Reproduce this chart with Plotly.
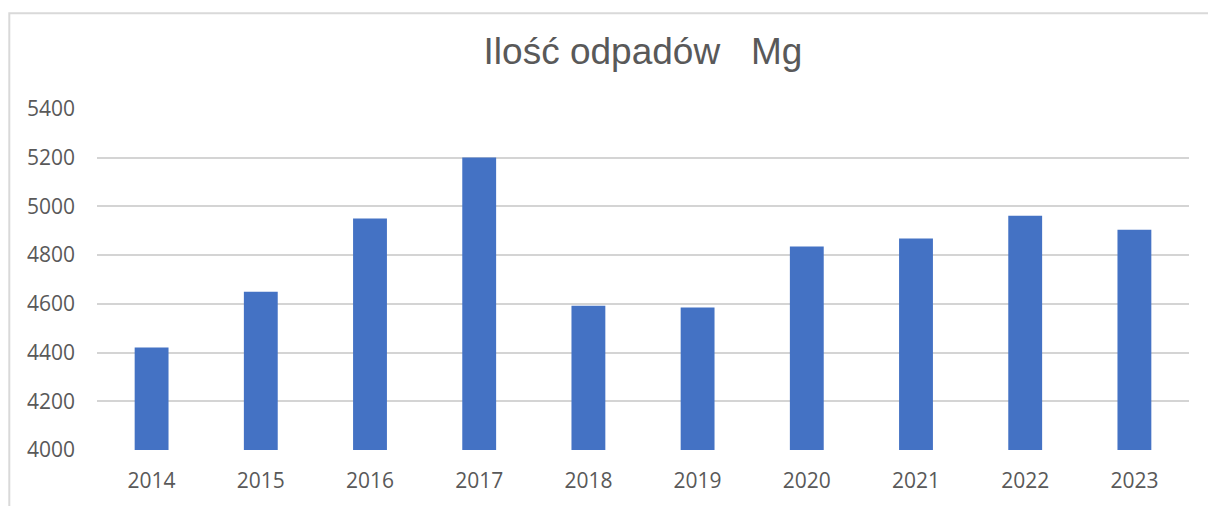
import plotly.graph_objects as go

# Annual amount of waste (Mg)
years = ["2014", "2015", "2016", "2017", "2018", "2019", "2020", "2021", "2022", "2023"]
waste_mg = [4421, 4650, 4950, 5201, 4592, 4585, 4835, 4868, 4962, 4904]
y_ticks = [4000, 4200, 4400, 4600, 4800, 5000, 5200, 5400]

W, H = 1208, 506
L, R, T, B = 97, 19, 109, 56
plot_w = W - L - R
plot_h = H - T - B


def px_to_paper_x(px):
    return (px - L) / plot_w


def px_to_paper_y(py):
    return (H - B - py) / plot_h


fig = go.Figure(
    go.Bar(
        x=years,
        y=waste_mg,
        marker=dict(color="#4472C4", line=dict(width=0)),
        hoverinfo="x+y",
    )
)

fig.update_layout(
    width=W,
    height=H,
    margin=dict(l=L, r=R, t=T, b=B),
    paper_bgcolor="white",
    plot_bgcolor="white",
    bargap=0.69,
    showlegend=False,
    font=dict(family="Open Sans", color="#595959"),
    title=dict(
        text="Ilość odpadów   Mg",
        font=dict(family="Liberation Sans", size=37, color="#595959"),
        x=0.5,
        xref="paper",
        xanchor="center",
        y=1 - 51 / H,
        yref="container",
        yanchor="middle",
    ),
    xaxis=dict(
        type="category",
        showgrid=False,
        showline=False,
        ticks="",
        tickfont=dict(size=21, color="#595959"),
        ticklabelstandoff=16,
    ),
    yaxis=dict(
        range=[4000, 5400],
        tickvals=y_ticks,
        showgrid=True,
        gridcolor="#d4d4d4",
        gridwidth=1.6,
        zeroline=False,
        showline=False,
        ticks="",
        tickfont=dict(size=21, color="#595959"),
        ticklabelstandoff=21,
    ),
    shapes=[
        # chart frame (left and top edges visible)
        dict(
            type="rect",
            xref="paper",
            yref="paper",
            x0=px_to_paper_x(9.3),
            x1=px_to_paper_x(1230),
            y0=px_to_paper_y(530),
            y1=px_to_paper_y(13.3),
            line=dict(color="#d9d9d9", width=2),
            fillcolor="rgba(0,0,0,0)",
            layer="below",
        )
    ],
)

fig.write_html("out.html")
